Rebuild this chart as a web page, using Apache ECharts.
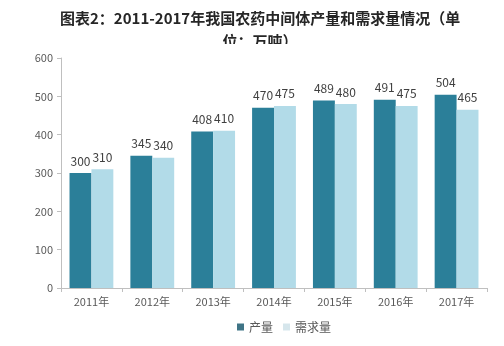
<!DOCTYPE html>
<html>
<head>
<meta charset="utf-8">
<script src="https://cdn.jsdelivr.net/npm/echarts@6/dist/echarts.min.js"></script>
<style>
  html, body { margin: 0; padding: 0; background: #fff; }
  #chart { width: 504px; height: 346px; }
</style>
</head>
<body>
<div id="chart"></div>
<script>
// 2011-2017 pesticide intermediates: output vs demand (unit: 10k tonnes)
const years = ['2011年', '2012年', '2013年', '2014年', '2015年', '2016年', '2017年'];
const output = [300, 345, 408, 470, 489, 491, 504];
const demand = [310, 340, 410, 475, 480, 475, 465];
const yTicks = { min: 0, max: 600, interval: 100 };

const FONT = '"Noto Sans CJK SC", "Noto Sans", sans-serif';
const chart = echarts.init(document.getElementById('chart'));

const labelStyle = {
  show: true,
  position: 'top',
  distance: 6,
  color: '#404040',
  fontSize: 12,
  fontFamily: FONT
};

chart.setOption({
  animation: false,
  backgroundColor: '#ffffff',
  textStyle: { fontFamily: FONT },
  graphic: [
    {
      type: 'text',
      left: 60,
      top: 7,
      z: 10,
      style: {
        text: '图表2：2011-2017年我国农药中间体产量和需求量情况（单\n位：万吨）',
        font: 'bold 15px ' + FONT,
        fill: '#262626',
        textAlign: 'center',
        lineHeight: 23
      }
    },
    {
      // the title's second line is cut off just below its top half
      type: 'rect',
      left: 150,
      top: 44,
      z: 20,
      shape: { width: 200, height: 12 },
      style: { fill: '#ffffff' }
    }
  ],
  grid: { left: 61, right: 17, top: 58, bottom: 58 },
  legend: {
    bottom: 8,
    left: 232,
    itemWidth: 7,
    itemHeight: 7,
    itemGap: 10,
    icon: 'rect',
    textStyle: { color: '#595959', fontSize: 12, fontFamily: FONT },
    data: [
      { name: '产量', itemStyle: { color: '#3f7486' } },
      { name: '需求量', itemStyle: { color: '#d6e6ec' } }
    ]
  },
  xAxis: {
    type: 'category',
    data: years,
    axisLine: { lineStyle: { color: '#bfbfbf' } },
    axisTick: { show: true, length: 4, lineStyle: { color: '#bfbfbf' } },
    axisLabel: { color: '#595959', fontSize: 11, margin: 8, fontFamily: FONT }
  },
  yAxis: {
    type: 'value',
    min: yTicks.min,
    max: yTicks.max,
    interval: yTicks.interval,
    axisLine: { show: true, lineStyle: { color: '#bfbfbf' } },
    axisTick: { show: true, length: 4, lineStyle: { color: '#bfbfbf' } },
    axisLabel: { color: '#595959', fontSize: 11, margin: 8, fontFamily: FONT },
    splitLine: { show: false }
  },
  series: [
    {
      name: '产量',
      type: 'bar',
      data: output,
      barGap: '0%',
      barCategoryGap: '28%',
      itemStyle: { color: '#2b7f99' },
      label: labelStyle
    },
    {
      name: '需求量',
      type: 'bar',
      data: demand,
      itemStyle: { color: '#b2dbe8' },
      label: labelStyle
    }
  ]
});
</script>
</body>
</html>
